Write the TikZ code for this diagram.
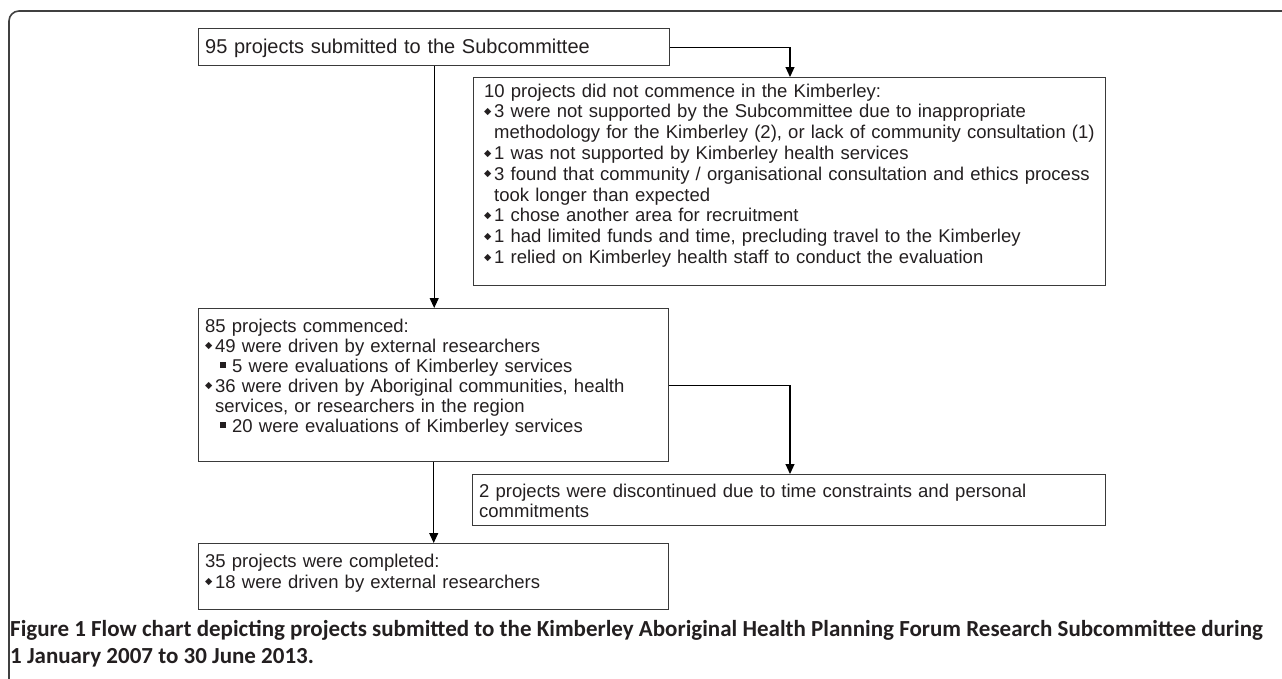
\documentclass[tikz,border=0pt]{standalone}
\usepackage{fontspec}
\setmainfont{Liberation Sans}
\newfontfamily\capfont{Carlito}
\newfontfamily\symf{DejaVu Sans}
\usetikzlibrary{arrows.meta}
\definecolor{linec}{HTML}{3A3A3A}
\definecolor{framec}{HTML}{404040}
\definecolor{txtc}{HTML}{231F20}
\newcommand\dbul{\makebox[10pt][l]{\raisebox{3.4pt}{\symf\fontsize{9.5}{10}\selectfont ◆}}}
\newcommand\sqbul{\makebox[12pt][l]{\rule[3.8pt]{6pt}{6pt}}}
\newcommand\li{\dbul}
\newcommand\cont{\hspace*{10pt}}
\newcommand\sli{\hspace*{15pt}\sqbul}
\begin{document}
\begin{tikzpicture}[x=1pt,y=-1pt,
  box/.style={draw=linec, line width=1.4pt, inner sep=0pt, anchor=north west},
  txt/.style={anchor=base west, inner sep=0pt, align=left, text=txtc,
    font=\fontsize{18.5}{20.8}\selectfont},
  captxt/.style={anchor=base west, inner sep=0pt, text=txtc,
    font=\capfont\bfseries\fontsize{23}{27}\selectfont},
  conn/.style={draw=black, line width=1.1pt, -{Triangle[length=10pt,width=9pt]}}]
\useasboundingbox (0,0) rectangle (1282,678);
\clip (0,0) rectangle (1282,678);
\draw[line width=1.6pt, draw=framec, rounded corners=10pt] (1300,11) -- (9,11) -- (9,700);

% boxes
\node[box, minimum width=471pt, minimum height=37pt] (A) at (198,28) {};
\node[box, minimum width=632pt, minimum height=208pt] (B) at (473,77) {};
\node[box, minimum width=470pt, minimum height=153pt] (C) at (198,308) {};
\node[box, minimum width=633pt, minimum height=51pt] (D) at (472,474) {};
\node[box, minimum width=470pt, minimum height=66pt] (E) at (198,543) {};

% texts
\node[txt, text width=460pt, font=\fontsize{20}{22}\selectfont] (At) at (205,53) {95 projects submitted to the Subcommittee};
\node[txt, text width=680pt] (Bt) at (484,97) {10 projects did not commence in the Kimberley:\\
\li 3 were not supported by the Subcommittee due to inappropriate\\
\cont methodology for the Kimberley (2), or lack of community consultation (1)\\
\li 1 was not supported by Kimberley health services\\
\li 3 found that community / organisational consultation and ethics process\\
\cont took longer than expected\\
\li 1 chose another area for recruitment\\
\li 1 had limited funds and time, precluding travel to the Kimberley\\
\li 1 relied on Kimberley health staff to conduct the evaluation};
\node[txt, text width=462pt, font=\fontsize{18.5}{20}\selectfont] (Ct) at (205,332) {85 projects commenced:\\
\li 49 were driven by external researchers\\
\sli 5 were evaluations of Kimberley services\\
\li 36 were driven by Aboriginal communities, health\\
\cont services, or researchers in the region\\
\sli 20 were evaluations of Kimberley services};
\node[txt, text width=625pt, font=\fontsize{18.5}{20}\selectfont] (Dt) at (479,497) {2 projects were discontinued due to time constraints and personal\\
commitments};
\node[txt, text width=462pt, font=\fontsize{18.5}{21}\selectfont] (Et) at (205,567) {35 projects were completed:\\
\li 18 were driven by external researchers};

% connectors
\coordinate (Bin) at (790,77);
\coordinate (Din) at (790,474);
\draw[conn] (A.east) -| (Bin);
\draw[conn] (A.south) -- (A.south |- C.north);
\draw[conn] (C.east) -| (Din);
\draw[conn] (C.south) -- (C.south |- E.north);

% caption
\node[captxt] (cap1) at (10,636) {Figure 1 Flow chart depicting projects submitted to the Kimberley Aboriginal Health Planning Forum Research Subcommittee during};
\node[captxt] (cap2) at (10,663) {1 January 2007 to 30 June 2013.};
\end{tikzpicture}
\end{document}
